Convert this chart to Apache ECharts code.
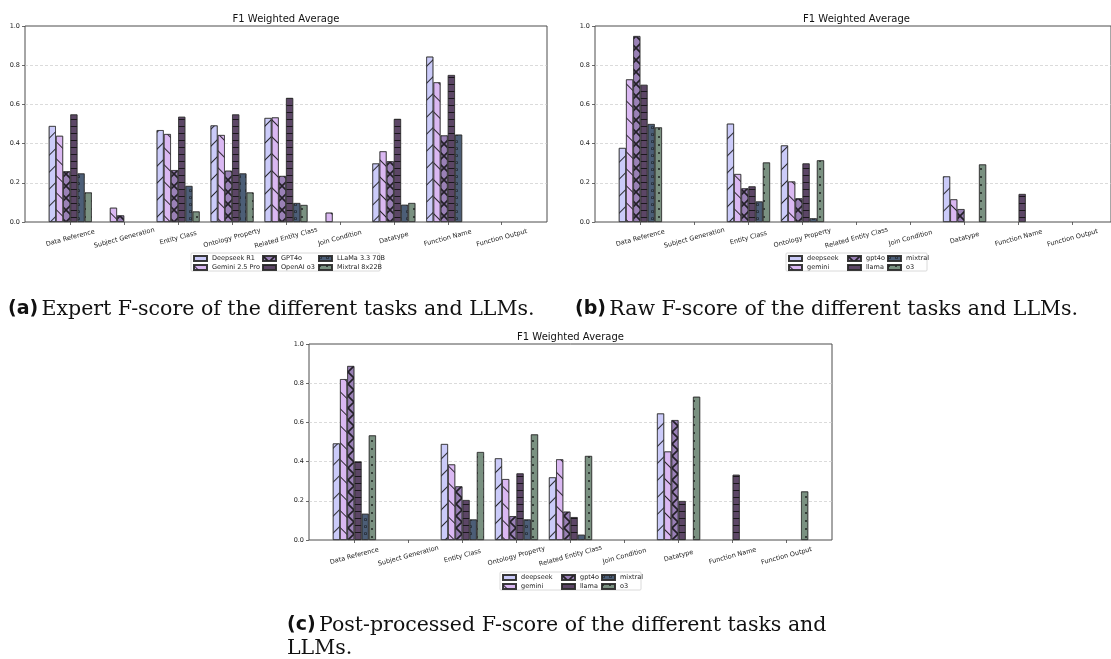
<!DOCTYPE html>
<html><head><meta charset="utf-8">
<script src="https://cdn.jsdelivr.net/npm/echarts@6/dist/echarts.min.js"></script>
<style>html,body{margin:0;padding:0;background:#fff}#c{width:1111px;height:659px}</style>
</head><body><div id="c"></div>
<script>
// ---------- data ----------
const categories = ['Data Reference','Subject Generation','Entity Class','Ontology Property','Related Entity Class','Join Condition','Datatype','Function Name','Function Output'];
const yTickLabels = ['0.0','0.2','0.4','0.6','0.8','1.0'];
const chartTitle = 'F1 Weighted Average';

// (a) Expert F-score
const modelsA = ['Deepseek R1','Gemini 2.5 Pro','GPT4o','OpenAI o3','LLaMa 3.3 70B','Mixtral 8x22B'];
const expertDeepseek = [0.490,0.000,0.469,0.493,0.531,0.000,0.299,0.844,0];
const expertGemini   = [0.440,0.073,0.449,0.444,0.534,0.048,0.361,0.713,0];
const expertGpt4o    = [0.259,0.034,0.265,0.262,0.235,0.000,0.310,0.442,0];
const expertO3       = [0.549,0.000,0.537,0.549,0.633,0.000,0.526,0.750,0];
const expertLlama    = [0.248,0.000,0.184,0.248,0.097,0.000,0.088,0.446,0];
const expertMixtral  = [0.151,0.000,0.054,0.151,0.087,0.000,0.097,0.000,0];

// (b) Raw F-score
const modelsBC = ['deepseek','gemini','gpt4o','llama','mixtral','o3'];
const rawDeepseek = [0.378,0,0.502,0.391,0,0,0.233,0,0];
const rawGemini   = [0.728,0,0.245,0.207,0,0,0.116,0,0];
const rawGpt4o    = [0.949,0,0.172,0.121,0,0,0.066,0,0];
const rawLlama    = [0.700,0,0.182,0.299,0,0,0.000,0.143,0];
const rawMixtral  = [0.500,0,0.105,0.019,0,0,0.000,0,0];
const rawO3       = [0.483,0,0.304,0.315,0,0,0.294,0,0];

// (c) Post-processed F-score
const postDeepseek = [0.493,0,0.490,0.417,0.320,0,0.646,0,0];
const postGemini   = [0.821,0,0.386,0.311,0.412,0,0.452,0,0];
const postGpt4o    = [0.888,0,0.274,0.122,0.145,0,0.612,0,0];
const postLlama    = [0.401,0,0.204,0.340,0.117,0,0.199,0.333,0];
const postMixtral  = [0.134,0,0.105,0.105,0.027,0,0.000,0,0];
const postO3       = [0.534,0,0.449,0.539,0.429,0,0.731,0,0.248];

const captionA = ['(a)', 'Expert F-score of the different tasks and LLMs.'];
const captionB = ['(b)', 'Raw F-score of the different tasks and LLMs.'];
const captionC = ['(c)', 'Post-processed F-score of the different tasks and\nLLMs.'];

// ---------- styles ----------
const FONT = 'DejaVu Sans';
const colors = ['#cbcbf9','#dab8f2','#9a81b6','#5c4666','#4c5e77','#7a9181'];
const edge = 'rgba(45,45,45,0.75)';
const hatchC = 'rgba(15,15,15,0.85)';
const ringPath = 'path://M5,0A5,5,0,1,0,5,10A5,5,0,1,0,5,0ZM5,2A3,3,0,1,1,5,8A3,3,0,1,1,5,2Z';
const xPath = 'path://M0,0L1.2,0L12,10.8L12,12L10.8,12L0,1.2ZM10.8,0L12,0L12,1.2L1.2,12L0,12L0,10.8Z';
const decals = [
  {symbol:'rect', symbolSize:1, dashArrayX:[1,0], dashArrayY:[1,11], rotation:-Math.PI/4, color:hatchC},
  {symbol:'rect', symbolSize:1, dashArrayX:[1,0], dashArrayY:[1,11], rotation:Math.PI/4, color:hatchC},
  {symbol:xPath, symbolSize:1, dashArrayX:[12,0], dashArrayY:[12,0], rotation:0, color:hatchC},
  {symbol:'rect', symbolSize:1, dashArrayX:[1,0], dashArrayY:[1,5.5], rotation:0, color:hatchC},
  {symbol:ringPath, symbolSize:1, dashArrayX:[3,4], dashArrayY:[3,4], rotation:0, color:hatchC},
  {symbol:'circle', symbolSize:1, dashArrayX:[1.6,5], dashArrayY:[1.6,6], rotation:0, color:hatchC}
];

const FRAME_H = 196;
const opt = {animation:false, grid:[], xAxis:[], yAxis:[], series:[], legend:[], graphic:[]};

function addChart(fl, ft, fw, names, data, legL, legT, colOff, boxW) {
  const s = fw / 9.68, inset = (fw - 9*s)/2, bw = 0.8*s/6;
  const gi = opt.grid.length;
  opt.grid.push({left:fl, top:ft, width:fw, height:FRAME_H, show:true, borderColor:'#4d4d4d', borderWidth:1, backgroundColor:'transparent'});
  opt.grid.push({left:fl+inset, top:ft, width:9*s, height:FRAME_H});
  opt.xAxis.push({gridIndex:gi, type:'value', min:0, max:1, show:false});
  opt.yAxis.push({gridIndex:gi, type:'value', min:0, max:1, interval:0.2,
    axisLine:{show:false},
    axisTick:{show:true, length:3, lineStyle:{color:'#444', width:0.8}},
    axisLabel:{formatter:(v)=>yTickLabels[Math.round(v*5)], fontSize:6.5, color:'#222', margin:5, fontFamily:FONT},
    splitLine:{show:true, showMinLine:false, showMaxLine:false, lineStyle:{type:[3,2], color:'#cccccc', width:0.7}}});
  opt.xAxis.push({gridIndex:gi+1, type:'category', data:categories,
    axisLine:{show:false},
    axisTick:{show:true, alignWithLabel:true, length:3, lineStyle:{color:'#444', width:0.8}},
    axisLabel:{interval:0, rotate:15, align:'center', verticalAlign:'middle', margin:16, fontSize:6.5, color:'#222', fontFamily:FONT}});
  opt.yAxis.push({gridIndex:gi+1, type:'value', min:0, max:1, show:false});
  const xi = opt.xAxis.length-1, yi = opt.yAxis.length-1;
  names.forEach((n,i)=>{
    opt.series.push({type:'bar', name:n, xAxisIndex:xi, yAxisIndex:yi,
      data:data[i].map(v => v > 0 ? v : null), barWidth:bw, barGap:'0%',
      itemStyle:{color:colors[i], borderColor:edge, borderWidth:0.8, decal:decals[i]},
      emphasis:{disabled:true}, silent:true});
  });
  opt.graphic.push({type:'text', x:fl+fw/2, y:ft-7, style:{text:chartTitle, font:'10px "DejaVu Sans"', fill:'#111', align:'center', verticalAlign:'middle'}});
  opt.graphic.push({type:'rect', z:0, shape:{x:legL, y:legT-1, width:boxW, height:18, r:1}, style:{fill:'#fff', stroke:'#d0d0d0', lineWidth:0.8}});
  for (let j=0;j<3;j++){
    opt.legend.push({orient:'vertical', left:legL+colOff[j], top:legT+0.5, padding:0, itemGap:1, itemWidth:13, itemHeight:5, icon:'rect',
      selectedMode:false, data:[names[2*j], names[2*j+1]],
      textStyle:{fontSize:6.5, fontFamily:FONT, color:'#222', lineHeight:8}});
  }
}

addChart(25, 26, 522, modelsA, [expertDeepseek,expertGemini,expertGpt4o,expertO3,expertLlama,expertMixtral], 191, 254, [2,71,127], 189);
addChart(595, 26, 523, modelsBC, [rawDeepseek,rawGemini,rawGpt4o,rawLlama,rawMixtral,rawO3], 786, 254, [2,61,101], 141);
addChart(309, 344, 523, modelsBC, [postDeepseek,postGemini,postGpt4o,postLlama,postMixtral,postO3], 500, 573, [2,61,101], 141);

function caption(c, x, y) {
  return {type:'text', x:x, y:y, style:{
    text:'{b|'+c[0]+'} '+c[1].split('\n').map(t=>'{r|'+t+'}').join('\n'),
    align:'left', verticalAlign:'top', fill:'#111',
    rich:{ b:{fontFamily:'DejaVu Sans', fontWeight:'bold', fontSize:19, fill:'#111', lineHeight:23},
           r:{fontFamily:'DejaVu Serif', fontSize:20.5, fill:'#111', lineHeight:23} }}};
}
opt.graphic.push(caption(captionA, 8, 298));
opt.graphic.push(caption(captionB, 575, 298));
opt.graphic.push(caption(captionC, 287, 614));

const chart = echarts.init(document.getElementById('c'), null, {renderer:'canvas'});
chart.setOption(opt);
</script></body></html>
